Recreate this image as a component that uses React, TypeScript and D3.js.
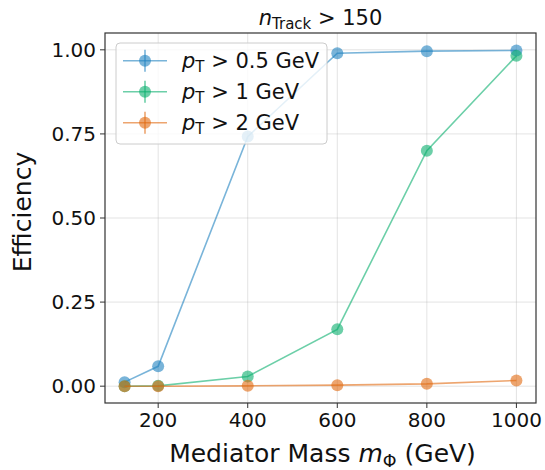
import React from "react";
import * as d3 from "d3";

const masses = [125, 200, 400, 600, 800, 1000];
const effPt05 = [0.012, 0.059, 0.742, 0.99, 0.996, 0.998];
const effPt1 = [0.0, 0.001, 0.029, 0.169, 0.70, 0.982];
const effPt2 = [0.0, 0.0, 0.001, 0.003, 0.007, 0.017];
const seriesNames = ["0.5", "1", "2"];
const seriesColors = ["#1f82c0", "#0aaf6e", "#e1690f"];
const xTicks = [200, 400, 600, 800, 1000];
const yTicks = [0, 0.25, 0.5, 0.75, 1.0];

const W = 545, H = 470;
const M = { left: 105, right: 536, top: 33, bottom: 403 };
const FONT = "DejaVu Sans, sans-serif";

export default function App() {
  const x = d3.scaleLinear().domain([81.25, 1043.75]).range([M.left, M.right]);
  const y = d3.scaleLinear().domain([-0.05, 1.05]).range([M.bottom, M.top]);
  const series = [effPt05, effPt1, effPt2];
  const line = d3.line<number>().x((_, i) => x(masses[i])).y((d) => y(d));
  const alpha = 0.6;

  return (
    <svg width={W} height={H} style={{ position: "absolute", left: 0, top: 0, background: "#fff" }} fontFamily={FONT}>
      <rect x={0} y={0} width={W} height={H} fill="#fff" />
      {/* grid */}
      {xTicks.map((t) => (
        <line key={"gx" + t} x1={x(t)} x2={x(t)} y1={M.top} y2={M.bottom} stroke="#b0b0b0" strokeOpacity={0.35} strokeWidth={1} />
      ))}
      {yTicks.map((t) => (
        <line key={"gy" + t} x1={M.left} x2={M.right} y1={y(t)} y2={y(t)} stroke="#b0b0b0" strokeOpacity={0.35} strokeWidth={1} />
      ))}
      {/* series */}
      {series.map((s, si) => (
        <g key={"s" + si}>
          <path d={line(s) || ""} fill="none" stroke={seriesColors[si]} strokeOpacity={alpha} strokeWidth={1.6} />
          {s.map((v, i) => (
            <circle key={i} cx={x(masses[i])} cy={y(v)} r={6} fill={seriesColors[si]} fillOpacity={alpha} />
          ))}
        </g>
      ))}
      {/* spines */}
      <rect x={M.left} y={M.top} width={M.right - M.left} height={M.bottom - M.top} fill="none" stroke="#333" strokeWidth={1.2} />
      {/* x ticks */}
      {xTicks.map((t) => (
        <g key={"xt" + t}>
          <line x1={x(t)} x2={x(t)} y1={M.bottom} y2={M.bottom + 5} stroke="#333" strokeWidth={1} />
          <text x={x(t)} y={M.bottom + 24} textAnchor="middle" fontSize={20} fill="#111">{t}</text>
        </g>
      ))}
      {yTicks.map((t) => (
        <g key={"yt" + t}>
          <line x1={M.left - 5} x2={M.left} y1={y(t)} y2={y(t)} stroke="#333" strokeWidth={1} />
          <text x={M.left - 9} y={y(t) + 7.3} textAnchor="end" fontSize={20} fill="#111">{d3.format(".2f")(t)}</text>
        </g>
      ))}
      {/* axis labels */}
      <text x={(M.left + M.right) / 2 + 2} y={462} textAnchor="middle" fontSize={25} fill="#111">
        Mediator Mass <tspan fontStyle="italic">m</tspan><tspan fontSize={17.5} dy={5}>Φ</tspan><tspan dy={-5}> (GeV)</tspan>
      </text>
      <text transform={`translate(31, ${(M.top + M.bottom) / 2 - 6}) rotate(-90)`} textAnchor="middle" fontSize={25} fill="#111">Efficiency</text>
      {/* title */}
      <text x={(M.left + M.right) / 2} y={25} textAnchor="middle" fontSize={21} fill="#111">
        <tspan fontStyle="italic">n</tspan><tspan fontSize={15} dy={4}>Track</tspan><tspan dy={-4}> &gt; 150</tspan>
      </text>
      {/* legend */}
      <g>
        <rect x={116} y={43} width={211} height={101} rx={4} fill="#fff" fillOpacity={0.8} stroke="#ccc" strokeWidth={1} />
        {seriesNames.map((n, i) => {
          const cy = 60.7 + i * 31;
          return (
            <g key={"lg" + i}>
              <line x1={123} x2={167} y1={cy} y2={cy} stroke={seriesColors[i]} strokeOpacity={alpha} strokeWidth={1.6} />
              <line x1={145} x2={145} y1={cy - 11} y2={cy + 11} stroke={seriesColors[i]} strokeOpacity={alpha} strokeWidth={1.6} />
              <circle cx={145} cy={cy} r={6} fill={seriesColors[i]} fillOpacity={alpha} />
              <text x={182} y={cy + 7.5} fontSize={21} fill="#111">
                <tspan fontStyle="italic">p</tspan><tspan fontSize={15} dy={4}>T</tspan><tspan dy={-4}> &gt; {n} GeV</tspan>
              </text>
            </g>
          );
        })}
      </g>
    </svg>
  );
}
